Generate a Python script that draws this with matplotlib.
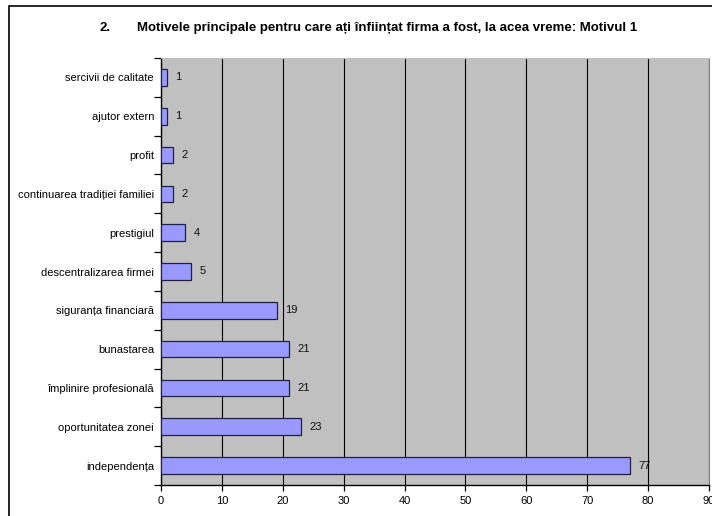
import matplotlib.pyplot as plt
from matplotlib.patches import Rectangle
from matplotlib.ticker import FixedLocator, NullFormatter

plt.rcParams['font.family'] = ['Liberation Sans', 'DejaVu Sans']

categories = ['independența', 'oportunitatea zonei', 'împlinire profesională', 'bunastarea',
              'siguranța financiară', 'descentralizarea firmei', 'prestigiul',
              'continuarea tradiției familiei', 'profit', 'ajutor extern', 'sercivii de calitate']
values = [77, 23, 21, 21, 19, 5, 4, 2, 2, 1, 1]
x_ticks = [0, 10, 20, 30, 40, 50, 60, 70, 80, 90]

W, H = 712, 516
fig = plt.figure(figsize=(W / 100, H / 100), dpi=100)

# chart frame (cropped on right and bottom in the original)
fig.patches.append(Rectangle((9 / W, -0.1), 1.2, 1 - 5.5 / H + 0.1, transform=fig.transFigure,
                             fill=False, edgecolor='black', linewidth=1.2))

ax = fig.add_axes([161 / W, 1 - 485 / H, 548 / W, 427 / H])
ax.set_facecolor('#C0C0C0')

ypos = list(range(len(categories)))
ax.barh(ypos, values, height=0.43, color='#9999FF', edgecolor='#202040', linewidth=0.9, zorder=3)
for y, v in zip(ypos, values):
    ax.annotate(str(v), (v, y), xytext=(6, 0), textcoords='offset points',
                va='center', ha='left', fontsize=8, color='#111111', zorder=4)

ax.set_xlim(0, 90)
ax.set_ylim(-0.5, len(categories) - 0.5)
ax.set_xticks(x_ticks)
ax.set_xticklabels([str(t) for t in x_ticks], fontsize=8)
ax.set_yticks(ypos)
ax.set_yticklabels(categories, fontsize=8)
ax.yaxis.set_minor_locator(FixedLocator([i - 0.5 for i in range(len(categories) + 1)]))
ax.yaxis.set_minor_formatter(NullFormatter())
ax.tick_params(axis='y', which='major', length=0, pad=5)
ax.tick_params(axis='y', which='minor', length=5, width=0.9, direction='out')
ax.tick_params(axis='x', length=4, width=0.9, direction='out', pad=4)
ax.grid(axis='x', color='black', linewidth=0.8, zorder=1)

ax.spines['left'].set_linewidth(1.0)
ax.spines['bottom'].set_linewidth(1.0)
ax.spines['top'].set_color('#C0C0C0')
ax.spines['right'].set_color('#808080')

fig.text(99 / W, 1 - 28 / H, '2.', fontsize=9.5, fontweight='bold', ha='left', va='center')
fig.text(137 / W, 1 - 28 / H, 'Motivele principale pentru care ați înființat firma a fost, la acea vreme: Motivul 1',
         fontsize=9.5, fontweight='bold', ha='left', va='center')

fig.savefig('out.png', dpi=100)
